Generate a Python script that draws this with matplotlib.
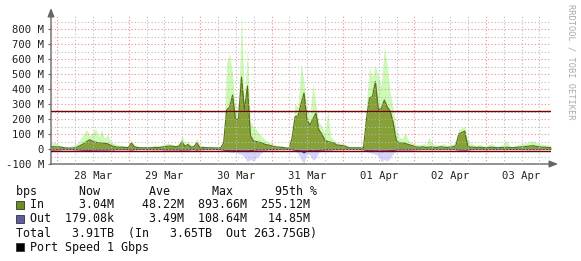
import matplotlib
matplotlib.use("Agg")
import matplotlib.pyplot as plt
import matplotlib.dates as mdates
from matplotlib.patches import Rectangle
import pandas as pd

# hourly samples, values in Mbit/s
in_avg = [15, 15, 14, 14, 10, 7, 6, 6, 8, 15,
          25, 35, 50, 62, 50, 45, 42, 40, 38, 35,
          25, 18, 13, 12, 12, 10, 10, 40, 15, 10,
          8, 8, 8, 8, 9, 10, 10, 12, 15, 18,
          20, 18, 15, 20, 48, 18, 30, 12, 15, 40,
          10, 10, 9, 8, 8, 7, 7, 8, 40, 260,
          280, 360, 195, 200, 480, 260, 420, 90, 55, 50,
          45, 40, 30, 27, 22, 15, 13, 12, 10, 7,
          5, 73, 215, 220, 300, 373, 193, 160, 200, 240,
          127, 100, 60, 50, 45, 40, 27, 25, 22, 18,
          8, 8, 8, 8, 8, 8, 200, 340, 350, 450,
          260, 270, 327, 280, 250, 173, 60, 40, 40, 38,
          30, 25, 18, 12, 12, 15, 10, 12, 14, 10,
          12, 15, 12, 10, 12, 15, 20, 100, 110, 120,
          20, 12, 12, 10, 12, 10, 8, 10, 12, 10,
          8, 10, 10, 12, 10, 8, 10, 12, 14, 15,
          18, 20, 22, 18, 15, 12, 12, 10, 10]
in_max = [40, 45, 30, 25, 20, 15, 15, 20, 30, 40,
          70, 100, 130, 90, 110, 140, 80, 130, 70, 100,
          50, 40, 30, 25, 25, 20, 20, 60, 30, 20,
          15, 15, 18, 15, 20, 25, 20, 25, 30, 40,
          35, 30, 25, 35, 90, 35, 55, 30, 30, 70,
          25, 20, 18, 15, 15, 15, 15, 20, 60, 570,
          640, 500, 260, 300, 890, 320, 680, 180, 150, 130,
          100, 80, 60, 45, 40, 30, 25, 20, 18, 15,
          15, 120, 300, 280, 570, 450, 260, 230, 440, 300,
          180, 150, 100, 260, 80, 60, 45, 40, 35, 30,
          20, 18, 18, 18, 20, 25, 300, 550, 480, 560,
          480, 420, 680, 550, 380, 260, 120, 80, 70, 110,
          60, 45, 35, 30, 30, 35, 30, 80, 35, 30,
          25, 30, 35, 25, 30, 35, 45, 130, 140, 150,
          60, 40, 30, 25, 30, 25, 20, 30, 35, 25,
          20, 25, 30, 60, 25, 20, 25, 30, 35, 40,
          45, 50, 55, 45, 35, 30, 30, 25, 25]
out_avg = [6, 6, 5, 5, 4, 4, 4, 4, 5, 5,
           6, 7, 8, 8, 7, 7, 6, 6, 6, 6,
           5, 5, 4, 4, 4, 4, 4, 6, 4, 4,
           3, 3, 3, 3, 4, 4, 4, 4, 5, 5,
           5, 5, 5, 5, 8, 5, 6, 4, 4, 6,
           4, 4, 3, 3, 3, 3, 3, 4, 6, 10,
           12, 14, 10, 12, 16, 15, 18, 12, 8, 6,
           5, 5, 5, 4, 4, 4, 4, 3, 3, 3,
           3, 4, 8, 10, 14, 27, 12, 10, 16, 12,
           8, 7, 6, 5, 5, 4, 4, 4, 3, 3,
           3, 3, 3, 3, 3, 4, 10, 14, 13, 16,
           14, 18, 16, 15, 12, 10, 6, 5, 5, 5,
           5, 5, 4, 4, 4, 3, 3, 3, 3, 3,
           3, 3, 3, 3, 3, 3, 4, 6, 6, 7,
           6, 4, 3, 3, 3, 3, 3, 3, 3, 3,
           3, 3, 3, 3, 3, 3, 3, 3, 3, 3,
           4, 4, 4, 4, 3, 3, 3, 3, 3]
out_max = [10, 10, 8, 8, 6, 6, 6, 6, 8, 8,
           10, 12, 15, 15, 12, 12, 10, 10, 10, 10,
           8, 8, 6, 6, 6, 6, 6, 10, 6, 6,
           5, 5, 5, 5, 6, 6, 6, 6, 8, 8,
           8, 8, 8, 8, 12, 8, 10, 6, 6, 10,
           6, 6, 5, 5, 5, 5, 5, 6, 10, 15,
           20, 25, 20, 30, 35, 55, 85, 70, 80, 60,
           40, 20, 10, 6, 6, 6, 6, 5, 5, 5,
           5, 8, 15, 30, 70, 95, 30, 40, 75, 60,
           20, 15, 10, 8, 8, 6, 6, 6, 5, 5,
           5, 5, 5, 5, 5, 6, 15, 25, 30, 35,
           45, 85, 70, 80, 60, 30, 15, 10, 8, 8,
           8, 8, 6, 6, 6, 5, 5, 5, 5, 5,
           5, 5, 5, 5, 5, 5, 6, 12, 15, 18,
           12, 6, 5, 5, 5, 5, 5, 5, 5, 5,
           5, 5, 5, 5, 5, 5, 5, 5, 5, 5,
           6, 6, 6, 6, 5, 5, 5, 5, 5]

in_95th = 255.12
out_95th = 14.85

stat_header = ["Now", "Ave", "Max", "95th %"]
in_stats = ["3.04M", "48.22M", "893.66M", "255.12M"]
out_stats = ["179.08k", "3.49M", "108.64M", "14.85M"]
totals = ["3.91TB", "3.65TB", "263.75GB"]

times = pd.date_range("2025-03-27 21:53", periods=len(in_avg), freq="h")
W, H = 581, 261

fig = plt.figure(figsize=(W / 100, H / 100), dpi=100)
fig.patch.set_facecolor("white")
ax = fig.add_axes([51 / W, (H - 164) / H, 500 / W, 150 / H])

neg_out = [-v for v in out_avg]
neg_out_max = [-v for v in out_max]

ax.fill_between(times, 0, in_max, color="#cbf9b6", lw=0, zorder=1)
ax.fill_between(times, 0, in_avg, color="#84a236", lw=0, zorder=2)
ax.plot(times, in_avg, color="#557018", lw=0.8, zorder=3)
ax.fill_between(times, 0, neg_out_max, color="#d4d4fc", lw=0, zorder=1)
ax.fill_between(times, 0, neg_out, color="#6a6aa8", lw=0, zorder=2)
ax.plot(times, neg_out, color="#3c3c7c", lw=0.6, zorder=3)

ax.set_ylim(-100, 900)
ax.set_xlim(times[0], times[-1])

# grid, drawn over the data like rrdtool does
for v in range(-50, 900, 50):
    major = v % 100 == 0
    ax.axhline(v, color="#f08c8c" if major else "#bbbbbb", lw=0.8,
               ls=(0, (1, 2)), zorder=4)
days = pd.date_range("2025-03-28", "2025-04-03 18:00", freq="6h")
for d in days:
    major = d.hour == 0
    ax.axvline(d, color="#f08c8c" if major else "#bbbbbb", lw=0.8,
               ls=(0, (1, 2)), zorder=4)

ax.axhline(in_95th, color="#7a0000", lw=1.0, zorder=5)
ax.axhline(-out_95th, color="#7a0000", lw=1.0, zorder=5)

for s in ax.spines.values():
    s.set_visible(False)
ax.annotate("", xy=(1 + 7 / 500, 0), xytext=(0, 0), xycoords="axes fraction",
            arrowprops=dict(arrowstyle="-|>,head_length=0.5,head_width=0.2",
                            color="#666666", lw=1.0, shrinkA=0, shrinkB=0))
ax.annotate("", xy=(0, 1 + 6 / 150), xytext=(0, 0), xycoords="axes fraction",
            arrowprops=dict(arrowstyle="-|>,head_length=0.5,head_width=0.2",
                            color="#666666", lw=1.0, shrinkA=0, shrinkB=0))

ax.set_yticks(range(-100, 900, 100))
ax.set_yticklabels([f"{v} M" if v != 0 else "0" for v in range(-100, 900, 100)])
ax.tick_params(axis="y", length=2, width=0.8, color="#666666", pad=3,
               labelsize=7.6, labelcolor="#222222")
ax.set_xticks(pd.date_range("2025-03-28 12:00", periods=7, freq="D"))
ax.xaxis.set_major_formatter(mdates.DateFormatter("%d %b"))
ax.tick_params(axis="x", length=0, pad=5, labelsize=7.6, labelcolor="#222222")
for lab in ax.get_xticklabels() + ax.get_yticklabels():
    lab.set_family("DejaVu Sans Mono")

fig.text(571 / W, 1 - 4 / H, "RRDTOOL / TOBI OETIKER", rotation=270,
         ha="center", va="top", fontsize=6.2, color="#aaaaaa",
         family="DejaVu Sans Mono")

# legend block (monospace, one string per row)
lx = 16 / W
fs = 8.4
rows = [
    (191, "bps      {}       {}      {}      {}".format(*stat_header)),
    (205, "  In     {:>5}  {:>8}  {:>7}  {:>7}".format(*in_stats)),
    (219, "  Out  {:>7}  {:>8}  {:>7}  {:>7}".format(*out_stats)),
    (233, "Total   {}  (In   {}  Out {})".format(*totals)),
    (247, "  Port Speed 1 Gbps"),
]
for y, s in rows:
    fig.text(lx, 1 - y / H, s, ha="left", va="center", fontsize=fs,
             family="DejaVu Sans Mono", color="#111111")

for y, col in [(205, "#6b8e23"), (219, "#5e5e9e"), (247, "#000000")]:
    fig.patches.append(Rectangle((16 / W, 1 - (y + 4) / H), 8 / W, 8 / H,
                                 transform=fig.transFigure, facecolor=col,
                                 edgecolor="#333333", lw=0.6))

fig.savefig("out.png", dpi=100, facecolor="white")
